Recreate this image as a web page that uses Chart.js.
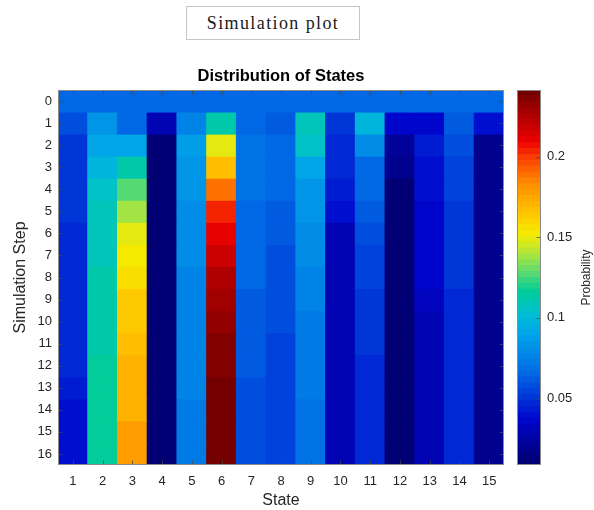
<!DOCTYPE html>
<html>
<head>
<meta charset="utf-8">
<title>Simulation plot</title>
<script src="https://cdn.jsdelivr.net/npm/chart.js@4.4.1/dist/chart.umd.min.js"></script>
<style>
  body { margin: 0; background: #fff; }
  #wrap { position: relative; width: 594px; height: 510px; }
  #wrap canvas { position: absolute; left: 0; top: 0; }
  #plotButton {
    position: absolute; left: 186px; top: 6px; width: 172px; height: 32px;
    border: 1px solid #c6c6c6; text-align: center;
    font: 18px "Liberation Serif"; line-height: 32px; letter-spacing: 1.4px; color: #1a1a1a;
  }
</style>
</head>
<body>
<div id="wrap">
  <div id="plotButton">Simulation plot</div>
  <canvas id="heatChart" width="594" height="510"></canvas>
  <canvas id="barChart" width="594" height="510"></canvas>
</div>
<script>
// x axis: states, y axis: simulation steps
const states = ["1", "2", "3", "4", "5", "6", "7", "8", "9", "10", "11", "12", "13", "14", "15"];
const steps = [0, 1, 2, 3, 4, 5, 6, 7, 8, 9, 10, 11, 12, 13, 14, 15, 16];

// probability of each state, one value per step (0..16)
const state1 = [0.0667, 0.059, 0.052, 0.051, 0.050, 0.049, 0.048, 0.048, 0.046, 0.046, 0.045, 0.045, 0.045, 0.044, 0.041, 0.040, 0.040];
const state2 = [0.0667, 0.082, 0.092, 0.097, 0.104, 0.108, 0.109, 0.110, 0.112, 0.113, 0.114, 0.114, 0.115, 0.115, 0.115, 0.115, 0.115];
const state3 = [0.0667, 0.064, 0.090, 0.114, 0.128, 0.139, 0.149, 0.153, 0.157, 0.162, 0.164, 0.166, 0.170, 0.171, 0.172, 0.178, 0.179];
const state4 = [0.0667, 0.027, 0.010, 0.009, 0.009, 0.009, 0.0088, 0.0088, 0.0087, 0.0087, 0.0086, 0.0086, 0.0086, 0.0085, 0.0085, 0.0085, 0.0085];
const state5 = [0.0667, 0.077, 0.088, 0.084, 0.082, 0.080, 0.078, 0.078, 0.077, 0.077, 0.077, 0.077, 0.076, 0.076, 0.072, 0.071, 0.071];
const state6 = [0.0667, 0.114, 0.149, 0.167, 0.189, 0.203, 0.209, 0.217, 0.224, 0.228, 0.233, 0.236, 0.237, 0.240, 0.241, 0.2415, 0.2415];
const state7 = [0.0667, 0.065, 0.069, 0.069, 0.067, 0.066, 0.065, 0.064, 0.064, 0.063, 0.063, 0.063, 0.060, 0.059, 0.059, 0.059, 0.059];
const state8 = [0.0667, 0.062, 0.066, 0.066, 0.065, 0.062, 0.063, 0.059, 0.056, 0.056, 0.056, 0.055, 0.055, 0.055, 0.055, 0.055, 0.055];
const state9 = [0.0667, 0.108, 0.105, 0.092, 0.084, 0.082, 0.078, 0.078, 0.075, 0.075, 0.071, 0.071, 0.071, 0.071, 0.068, 0.068, 0.068];
const state10 = [0.0667, 0.049, 0.047, 0.045, 0.042, 0.038, 0.030, 0.029, 0.029, 0.028, 0.028, 0.027, 0.027, 0.027, 0.027, 0.027, 0.027];
const state11 = [0.0667, 0.099, 0.080, 0.066, 0.064, 0.061, 0.056, 0.055, 0.055, 0.052, 0.052, 0.050, 0.048, 0.048, 0.048, 0.048, 0.048];
const state12 = [0.0667, 0.034, 0.020, 0.017, 0.012, 0.010, 0.009, 0.0088, 0.0087, 0.0087, 0.0086, 0.0086, 0.0086, 0.0085, 0.0085, 0.0085, 0.0085];
const state13 = [0.0667, 0.036, 0.043, 0.040, 0.039, 0.037, 0.036, 0.036, 0.036, 0.031, 0.030, 0.030, 0.030, 0.030, 0.030, 0.030, 0.030];
const state14 = [0.0667, 0.062, 0.058, 0.055, 0.054, 0.052, 0.050, 0.049, 0.049, 0.048, 0.048, 0.048, 0.047, 0.047, 0.047, 0.047, 0.047];
const state15 = [0.0667, 0.038, 0.017, 0.017, 0.017, 0.017, 0.017, 0.017, 0.017, 0.017, 0.017, 0.017, 0.017, 0.017, 0.017, 0.017, 0.017];

const colorbarTicks = [0.05, 0.1, 0.15, 0.2];

const stateColumns = [state1, state2, state3, state4, state5, state6, state7, state8,
  state9, state10, state11, state12, state13, state14, state15];

// colour limits come from the data, like imagesc does
const allValues = stateColumns.flat();
const cMin = Math.min(...allValues);
const cMax = Math.max(...allValues);

// jet-like colormap, 64 steps
const mapStops = [
  [0.00, [0, 0, 110]], [0.12, [0, 5, 205]], [0.25, [0, 110, 230]], [0.35, [0, 165, 232]],
  [0.40, [0, 190, 212]], [0.46, [0, 205, 155]], [0.52, [105, 220, 105]], [0.575, [195, 232, 45]],
  [0.615, [245, 235, 0]], [0.665, [255, 200, 0]], [0.75, [255, 140, 0]], [0.82, [250, 60, 0]],
  [0.86, [238, 0, 0]], [1.00, [110, 0, 0]]
];
const nColors = 64;

function mapColor(v) {
  let t = (v - cMin) / (cMax - cMin);
  const idx = Math.min(nColors - 1, Math.max(0, Math.floor(t * nColors)));
  t = (idx + 0.5) / nColors;
  for (let i = 1; i < mapStops.length; i++) {
    const [t0, c0] = mapStops[i - 1];
    const [t1, c1] = mapStops[i];
    if (t <= t1) {
      const f = (t - t0) / (t1 - t0);
      const c = c0.map((x, k) => Math.round(x + (c1[k] - x) * f));
      return `rgb(${c[0]},${c[1]},${c[2]})`;
    }
  }
  return "rgb(110,0,0)";
}

Chart.defaults.font.family = "Liberation Sans";
Chart.defaults.color = "#262626";

// box round the plot area plus the small inward ticks
const framePlugin = {
  id: "frame",
  afterDatasetsDraw(chart, args, opts) {
    const { ctx, chartArea: a, scales } = chart;
    const L = Math.round(a.left) + 0.5, R = Math.round(a.right) - 0.5;
    const T = Math.round(a.top) + 0.5, B = Math.round(a.bottom) - 0.5;
    ctx.save();
    ctx.lineWidth = 1;
    ctx.strokeStyle = "rgba(70,70,70,0.75)";
    ctx.beginPath();
    if (opts.xTicks) {
      scales.x.ticks.forEach((t, i) => {
        const px = Math.round(scales.x.getPixelForTick(i)) + 0.5;
        ctx.moveTo(px, B); ctx.lineTo(px, B - 4);
        ctx.moveTo(px, T); ctx.lineTo(px, T + 4);
      });
    }
    scales.y.ticks.forEach(t => {
      const py = Math.round(scales.y.getPixelForValue(t.value)) + 0.5;
      if (opts.leftTicks) { ctx.moveTo(L, py); ctx.lineTo(L + 4, py); }
      ctx.moveTo(R, py); ctx.lineTo(R - 4, py);
    });
    ctx.stroke();
    ctx.strokeStyle = "#8a8a8a";
    ctx.strokeRect(L, T, R - L, B - T);
    if (opts.sideLabel) {
      ctx.fillStyle = "#262626";
      ctx.font = "12px 'Liberation Sans'";
      ctx.textAlign = "center";
      ctx.textBaseline = "middle";
      ctx.translate(587, (a.top + a.bottom) / 2);
      ctx.rotate(-Math.PI / 2);
      ctx.fillText(opts.sideLabel, 0, 0);
    }
    ctx.restore();
  }
};

// one dataset per step, each bar is one cell [step-0.5, step+0.5]
const heatSets = steps.map((step, r) => ({
  data: states.map(() => [step - 0.5, step + 0.5]),
  backgroundColor: stateColumns.map(col => mapColor(col[r])),
  borderWidth: 0,
  grouped: false,
  barPercentage: 1,
  categoryPercentage: 1,
  inflateAmount: 0.5
}));

new Chart(document.getElementById("heatChart"), {
  type: "bar",
  data: { labels: states, datasets: heatSets },
  plugins: [framePlugin],
  options: {
    responsive: false,
    animation: false,
    events: [],
    layout: { padding: { left: 0, right: 90, top: 0, bottom: 0 } },
    plugins: {
      legend: { display: false },
      tooltip: { enabled: false },
      title: {
        display: true,
        text: "Distribution of States",
        fullSize: false,
        color: "#000",
        font: { size: 16.5, weight: "bold" },
        padding: { top: 67, bottom: 3.2 }
      },
      frame: { xTicks: true, leftTicks: true }
    },
    scales: {
      x: {
        type: "category",
        grid: { display: false, drawTicks: false },
        border: { display: false },
        ticks: { font: { size: 13 }, padding: 8.5, maxRotation: 0, autoSkip: false },
        title: { display: true, text: "State", font: { size: 16 }, padding: { top: 0, bottom: 0 } },
        afterFit: s => { s.height = 45; }
      },
      y: {
        type: "linear",
        min: -0.5,
        max: 16.5,
        reverse: true,
        grid: { display: false, drawTicks: false },
        border: { display: false },
        ticks: { font: { size: 13 }, padding: 6, callback: v => String(v) },
        afterBuildTicks: s => { s.ticks = steps.map(v => ({ value: v })); },
        title: { display: true, text: "Simulation Step", font: { size: 16 }, padding: { top: 10.5, bottom: 0 } },
        afterFit: s => { s.width = 58; }
      }
    }
  }
});

// colour bar: 64 stacked bands through the same colormap
const bandSize = (cMax - cMin) / nColors;
const bandSets = [];
for (let k = 0; k < nColors; k++) {
  const lo = cMin + k * bandSize;
  bandSets.push({
    data: [[lo, lo + bandSize]],
    backgroundColor: mapColor(lo + bandSize / 2),
    borderWidth: 0,
    grouped: false,
    barPercentage: 1,
    categoryPercentage: 1,
    inflateAmount: 0.5
  });
}

new Chart(document.getElementById("barChart"), {
  type: "bar",
  data: { labels: [""], datasets: bandSets },
  plugins: [framePlugin],
  options: {
    responsive: false,
    animation: false,
    events: [],
    layout: { padding: { left: 517, right: 0, top: 90, bottom: 45 } },
    plugins: {
      legend: { display: false },
      tooltip: { enabled: false },
      frame: { xTicks: false, leftTicks: false, sideLabel: "Probability" }
    },
    scales: {
      x: { display: false },
      y: {
        type: "linear",
        position: "right",
        min: cMin,
        max: cMax,
        grid: { display: false, drawTicks: false },
        border: { display: false },
        ticks: { font: { size: 13 }, padding: 6, callback: v => String(+v.toFixed(2)) },
        afterBuildTicks: s => { s.ticks = colorbarTicks.map(v => ({ value: v })); },
        afterFit: s => { s.width = 53; }
      }
    }
  }
});
</script>
</body>
</html>
